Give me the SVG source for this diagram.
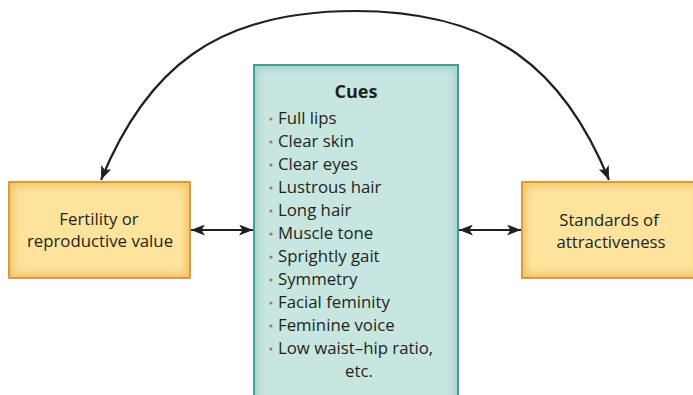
<svg xmlns="http://www.w3.org/2000/svg" width="693" height="395" viewBox="0 0 693 395">
  <defs>
    <style>
      .lbl { font-family: "Open Sans", "Liberation Sans", sans-serif; font-size: 16.8px; fill: #231f20; }
      .title { font-family: "Open Sans", "Liberation Sans", sans-serif; font-size: 18px; font-weight: bold; fill: #231f20; }
      .conn { fill: none; stroke: #231f20; stroke-width: 2.2; }
      .bullet { fill: #a8764a; }
      .ybox { fill: #f6c66a; stroke: #d8953c; stroke-width: 1.5; }
      .yin { fill: #fde39c; filter: url(#blur); }
      .tbox { fill: #a8d6ce; stroke: #4a9a96; stroke-width: 2; }
      .tin { fill: #c7e6e0; filter: url(#blur); }
    </style>
    <filter id="blur" x="-10%" y="-10%" width="120%" height="120%">
      <feGaussianBlur stdDeviation="3"/>
    </filter>
    <clipPath id="clipL"><rect x="9" y="182" width="181" height="96"/></clipPath>
    <clipPath id="clipR"><rect x="522" y="182" width="180" height="96"/></clipPath>
    <clipPath id="clipC"><rect x="254" y="65" width="204" height="340"/></clipPath>
    <marker id="arr" viewBox="0 0 14 11" refX="14" refY="5.5" markerWidth="14" markerHeight="11" markerUnits="userSpaceOnUse" orient="auto-start-reverse">
      <path d="M0,0 L14,5.5 L0,11 L3.5,5.5 Z" fill="#231f20"/>
    </marker>
  </defs>

  <g id="connectors">
    <path class="conn" d="M101,180 C146,70 215,11 355,11 C495,11 564,70 609,180" marker-start="url(#arr)" marker-end="url(#arr)"/>
    <line class="conn" x1="191" y1="230" x2="253" y2="230" marker-start="url(#arr)" marker-end="url(#arr)"/>
    <line class="conn" x1="459" y1="230" x2="521" y2="230" marker-start="url(#arr)" marker-end="url(#arr)"/>
  </g>

  <g id="fertility">
    <rect class="ybox" x="9" y="182" width="181" height="96"/>
    <g clip-path="url(#clipL)"><rect class="yin" x="14" y="187" width="171" height="86"/></g>
    <rect x="9" y="182" width="181" height="96" fill="none" stroke="#d8953c" stroke-width="1.5"/>
    <text class="lbl" text-anchor="middle" x="99" y="225">Fertility or</text>
    <text class="lbl" text-anchor="middle" x="100" y="247">reproductive value</text>
  </g>

  <g id="standards">
    <rect class="ybox" x="522" y="182" width="180" height="96"/>
    <g clip-path="url(#clipR)"><rect class="yin" x="527" y="187" width="170" height="86"/></g>
    <rect x="522" y="182" width="180" height="96" fill="none" stroke="#d8953c" stroke-width="1.5"/>
    <text class="lbl" text-anchor="middle" x="609" y="226">Standards of</text>
    <text class="lbl" text-anchor="middle" x="611" y="248">attractiveness</text>
  </g>

  <g id="cues">
    <rect class="tbox" x="254" y="65" width="204" height="340"/>
    <g clip-path="url(#clipC)"><rect class="tin" x="259" y="70" width="194" height="340"/></g>
    <rect x="254" y="65" width="204" height="340" fill="none" stroke="#4a9a96" stroke-width="2"/>
    <text class="title" text-anchor="middle" x="356" y="98">Cues</text>
    <g class="bullet">
      <circle cx="271" cy="119" r="1.6"/>
      <circle cx="271" cy="142" r="1.6"/>
      <circle cx="271" cy="165" r="1.6"/>
      <circle cx="271" cy="188" r="1.6"/>
      <circle cx="271" cy="211" r="1.6"/>
      <circle cx="271" cy="234" r="1.6"/>
      <circle cx="271" cy="257" r="1.6"/>
      <circle cx="271" cy="280" r="1.6"/>
      <circle cx="271" cy="303" r="1.6"/>
      <circle cx="271" cy="326" r="1.6"/>
      <circle cx="271" cy="349" r="1.6"/>
    </g>
    <text class="lbl" x="278" y="124">Full lips</text>
    <text class="lbl" x="278" y="147">Clear skin</text>
    <text class="lbl" x="278" y="170">Clear eyes</text>
    <text class="lbl" x="278" y="193">Lustrous hair</text>
    <text class="lbl" x="278" y="216">Long hair</text>
    <text class="lbl" x="278" y="239">Muscle tone</text>
    <text class="lbl" x="278" y="262">Sprightly gait</text>
    <text class="lbl" x="278" y="285">Symmetry</text>
    <text class="lbl" x="278" y="308">Facial feminity</text>
    <text class="lbl" x="278" y="331">Feminine voice</text>
    <text class="lbl" x="278" y="354">Low waist–hip ratio,</text>
    <text class="lbl" x="345" y="377">etc.</text>
  </g>
</svg>
